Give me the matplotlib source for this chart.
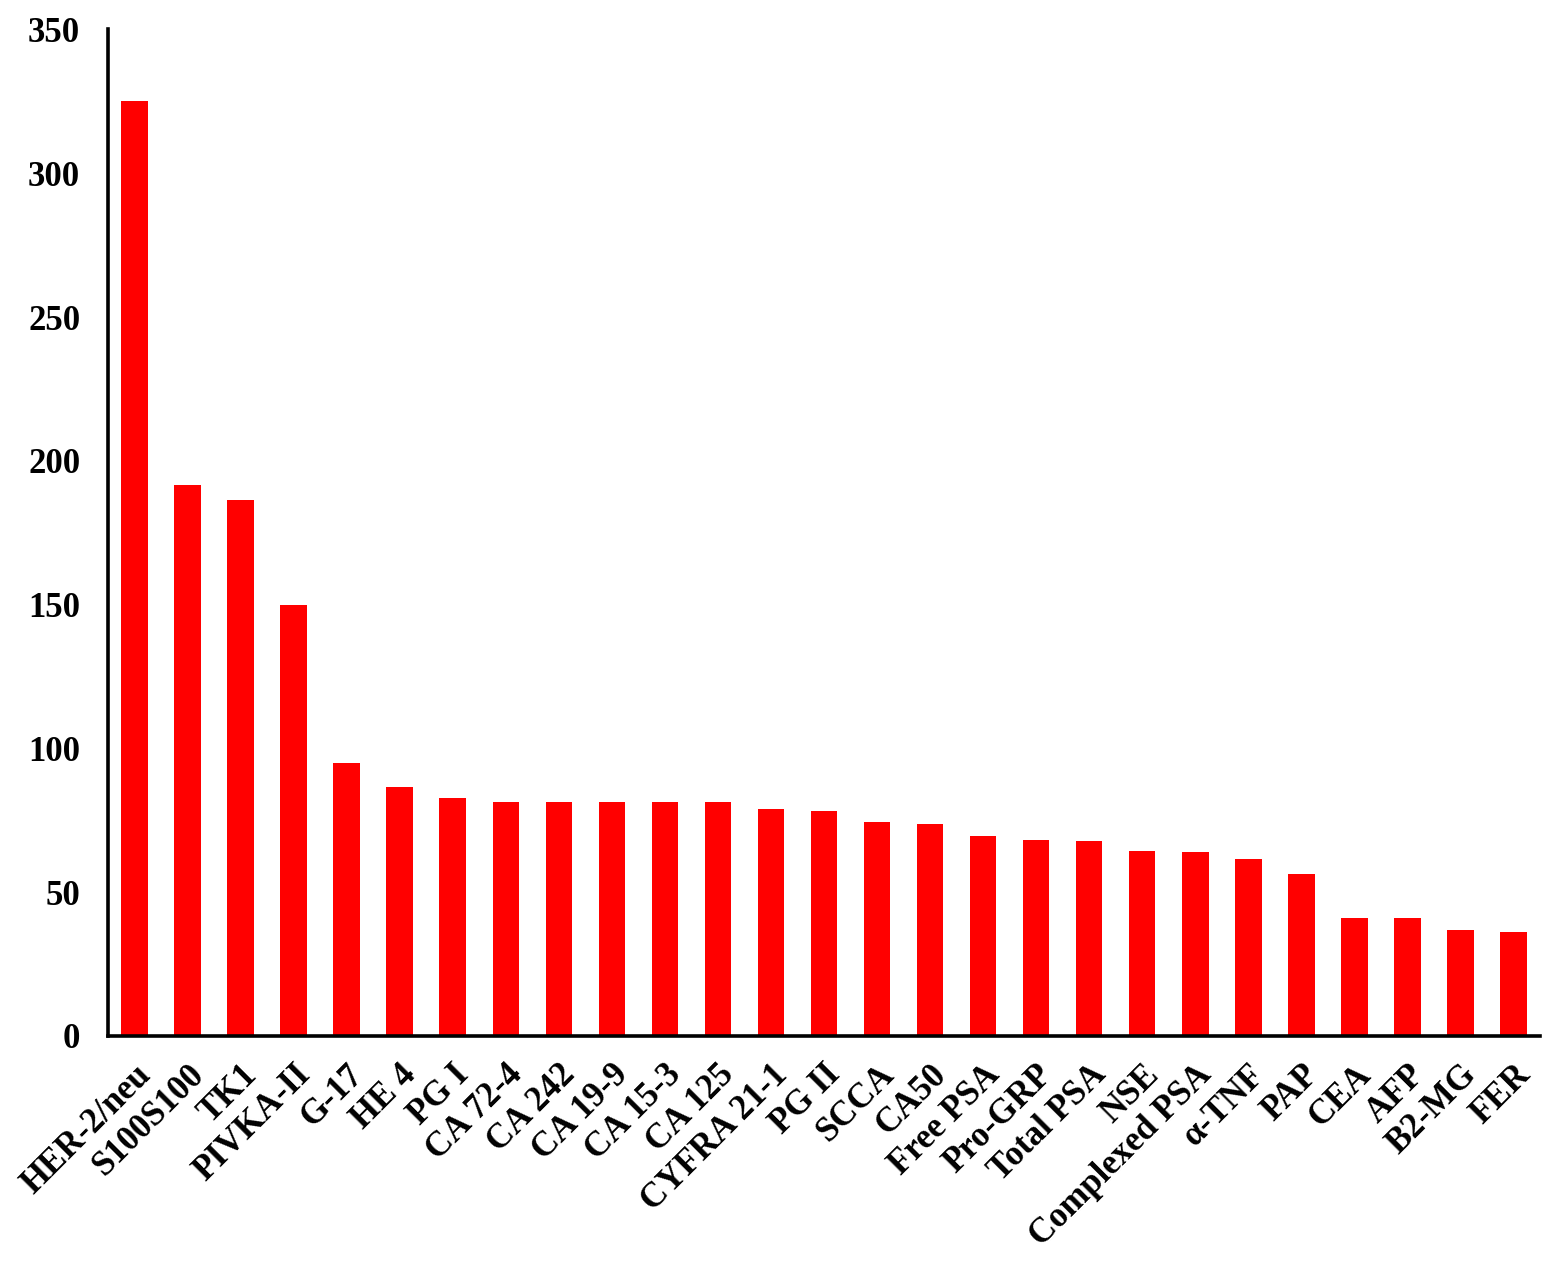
import matplotlib.pyplot as plt

# маркеры и значения
markers = ['HER-2/neu', 'S100S100', 'TK1', 'PIVKA-II', 'G-17', 'HE 4', 'PG I',
           'CA 72-4', 'CA 242', 'CA 19-9', 'CA 15-3', 'CA 125', 'CYFRA 21-1',
           'PG II', 'SCCA', 'CA50', 'Free PSA', 'Pro-GRP', 'Total PSA', 'NSE',
           'Complexed PSA', 'α-TNF', 'PAP', 'CEA', 'AFP', 'B2-MG', 'FER']
values = [325.1, 191.5, 186.3, 149.8, 94.8, 86.5, 82.6,
          81.2, 81.2, 81.2, 81.2, 81.2, 79.1,
          78.4, 74.5, 73.8, 69.7, 68.3, 67.9, 64.4,
          64.1, 61.7, 56.4, 41.1, 41.1, 36.9, 36.2]
y_ticks = [0, 50, 100, 150, 200, 250, 300, 350]

plt.rcParams['font.family'] = ['Liberation Serif', 'DejaVu Serif']
plt.rcParams['font.weight'] = 'bold'

fig = plt.figure(figsize=(15.63, 12.66), dpi=100)
ax = fig.add_axes([0.0691, 0.1817, 0.9162, 0.795])

x = list(range(len(markers)))
ax.bar(x, values, width=0.5, color='#ff0000')

ax.set_xlim(-0.5, len(markers) - 0.5)
ax.set_ylim(0, 350)
ax.set_yticks(y_ticks)
ax.set_yticklabels([str(t) for t in y_ticks], fontsize=25, fontweight='bold')
ax.set_xticks(x)
ax.set_xticklabels(markers, rotation=45, ha='right', va='top',
                   rotation_mode='anchor', fontsize=25, fontweight='bold')

ax.tick_params(axis='y', length=0, pad=20)
ax.tick_params(axis='x', length=0, pad=16)

for side in ['top', 'right']:
    ax.spines[side].set_visible(False)
for side in ['left', 'bottom']:
    ax.spines[side].set_linewidth(2.6)

fig.savefig('out.png', dpi=100)
